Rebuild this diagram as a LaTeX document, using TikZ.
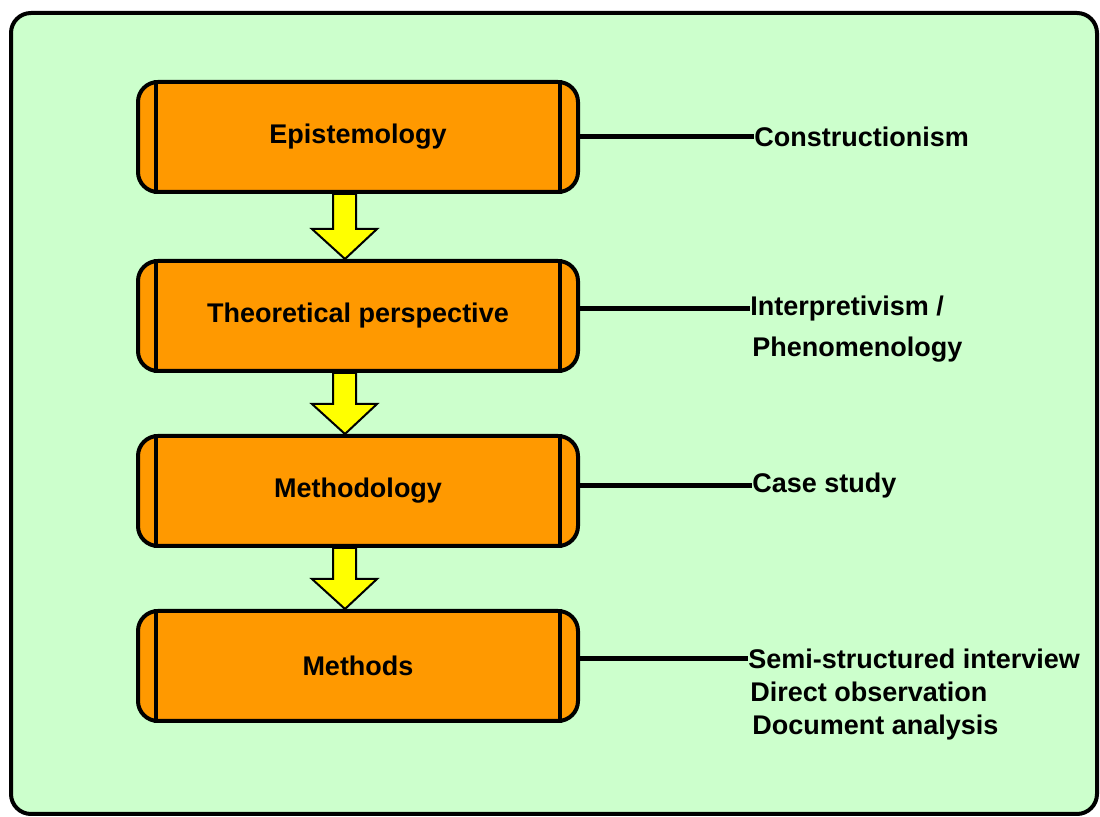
\documentclass[tikz,border=0pt]{standalone}
\usepackage{fontspec}
\setmainfont{Liberation Sans}
\usetikzlibrary{calc}
\definecolor{bggreen}{HTML}{CCFFCC}
\definecolor{boxorange}{HTML}{FF9900}
\definecolor{arrowyellow}{HTML}{FFFF00}
\begin{document}
\begin{tikzpicture}[x=0.5pt,y=-0.5pt,
  stage/.style={draw, line width=2pt, fill=boxorange, rounded corners=10pt,
    minimum width=220pt, minimum height=55pt, inner sep=0pt,
    font=\bfseries\fontsize{13.5}{16}\selectfont},
  lbl/.style={anchor=west, inner sep=0pt, font=\bfseries\fontsize{13.5}{16}\selectfont},
  link/.style={line width=2.5pt},
  flow/.style={draw, line width=1pt, fill=arrowyellow, line join=miter}]
\useasboundingbox (0,0) rectangle (1100,817);
\fill[white] (0,0) rectangle (1100,817);
\draw[line width=2pt, fill=bggreen, rounded corners=10pt] (11,13) rectangle (1097,814);

\node[stage] (b1) at (358,137) {Epistemology};
\node[stage] (b2) at (358,316) {Theoretical perspective};
\node[stage] (b3) at (358,491) {Methodology};
\node[stage] (b4) at (358,666) {Methods};

\foreach \b in {b1,b2,b3,b4}{
  \draw[line width=2pt] ([xshift=10pt]\b.north west) -- ([xshift=10pt]\b.south west);
  \draw[line width=2pt] ([xshift=-10pt]\b.north east) -- ([xshift=-10pt]\b.south east);
}

\foreach \a/\b in {b1/b2,b2/b3,b3/b4}{
  \draw[flow] ($(\a.south)+(-25,0)$) -- ($(\b.north)+(-25,-30)$) -- ($(\b.north)+(-46,-30)$)
    -- ($(\b.north)+(-13,0)$) -- ($(\b.north)+(19,-30)$) -- ($(\b.north)+(-2,-30)$)
    -- ($(\a.south)+(-2,0)$) -- cycle;
}

\node[lbl] (c1) at (754,137) {Constructionism};
\node[lbl] (c2) at (750,309) {Interpretivism /};
\node[lbl] (c2b) at (752,350) {Phenomenology};
\node[lbl] (c3) at (752,486) {Case study};
\node[lbl] (c4) at (748,659) {Semi-structured interview};
\node[lbl] (c4b) at (750,692) {Direct observation};
\node[lbl] (c4c) at (752,728) {Document analysis};

\draw[link] (b1.east |- c1.west) -- (c1.west);
\draw[link] (b2.east |- c2.west) -- (c2.west);
\draw[link] (b3.east |- c3.west) -- (c3.west);
\draw[link] (b4.east |- c4.west) -- (c4.west);
\end{tikzpicture}
\end{document}
